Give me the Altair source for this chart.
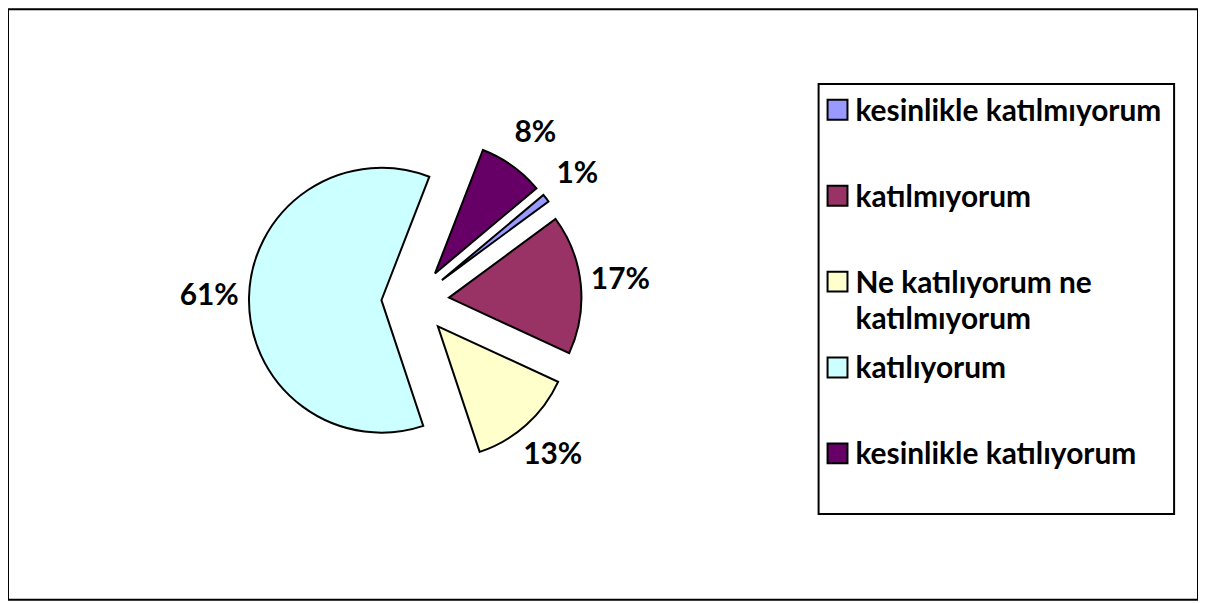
import math
import altair as alt
import pandas as pd

# ---- data ----
categories = [
    "kesinlikle katılmıyorum",
    "katılmıyorum",
    "Ne katılıyorum ne katılmıyorum",
    "katılıyorum",
    "kesinlikle katılıyorum",
]
values = [1, 17, 13, 61, 8]
legend_text = [
    "kesinlikle katılmıyorum",
    "katılmıyorum",
    "Ne katılıyorum ne\nkatılmıyorum",
    "katılıyorum",
    "kesinlikle katılıyorum",
]
colors = ["#9999FF", "#993366", "#FFFFCC", "#CCFFFF", "#660066"]

df = pd.DataFrame({
    "idx": list(range(len(categories))),
    "label": categories,
    "value": values,
    "ltext": legend_text,
})

# ---- layout parameters ----
W, H = 1195, 593
CX, CY = 409, 293          # pie center
R = 133                    # pie radius
EXPLODE = 34               # slice explosion
LABEL_R = 207              # label distance
START = 50 * math.pi / 180 # first slice angle
FONT = "Lato"
FS = 30

color = alt.Color("label:N", scale=alt.Scale(domain=categories, range=colors), legend=None)

base = alt.Chart(df).transform_joinaggregate(
    total="sum(value)"
).transform_window(
    cum="sum(value)", sort=[alt.SortField("idx")], frame=[None, 0]
).transform_calculate(
    t0=f"{START} + (datum.cum - datum.value) / datum.total * 2 * PI",
    t1=f"{START} + datum.cum / datum.total * 2 * PI",
).transform_calculate(
    mid="(datum.t0 + datum.t1) / 2"
).transform_calculate(
    cx=f"{CX} + {EXPLODE} * sin(datum.mid)",
    cy=f"{CY} - {EXPLODE} * cos(datum.mid)",
    lx=f"{CX} + {LABEL_R} * sin(datum.mid)",
    ly=f"{CY} - {LABEL_R} * cos(datum.mid)",
    pct="datum.value + '%'",
)

slices = base.mark_arc(radius=R, stroke="black", strokeWidth=2).encode(
    theta=alt.Theta("t0:Q", scale=None),
    theta2="t1:Q",
    x=alt.X("cx:Q", scale=None),
    y=alt.Y("cy:Q", scale=None),
    color=color,
)

labels = base.mark_text(font=FONT, fontSize=FS, fontWeight="bold", color="black",
                        align="center", baseline="middle").encode(
    x=alt.X("lx:Q", scale=None),
    y=alt.Y("ly:Q", scale=None),
    text="pct:N",
)

# legend box
box = alt.Chart(pd.DataFrame({"a": [0]})).mark_rect(
    fill="white", stroke="black", strokeWidth=2
).encode(
    x=alt.value(814), x2=alt.value(1171), y=alt.value(75), y2=alt.value(507)
)

leg = alt.Chart(df).transform_calculate(
    sy="101 + datum.idx * 86.25",
    ty="112 + datum.idx * 86.25",
)

leg_sq = leg.mark_square(size=400, stroke="black", strokeWidth=2, opacity=1).encode(
    x=alt.value(833),
    y=alt.Y("sy:Q", scale=None),
    color=color,
)

leg_txt = leg.mark_text(font=FONT, fontSize=FS, fontWeight="bold", color="black",
                        align="left", baseline="alphabetic", lineBreak="\n",
                        lineHeight=37).encode(
    x=alt.value(851),
    y=alt.Y("ty:Q", scale=None),
    text="ltext:N",
)

chart = alt.layer(slices, labels, box, leg_sq, leg_txt).properties(
    width=W, height=H, padding=0, autosize=alt.AutoSizeParams(type="none")
).configure_view(stroke="black", strokeWidth=2)

chart.save("out.html", embed_options={"renderer": "svg", "actions": False})
